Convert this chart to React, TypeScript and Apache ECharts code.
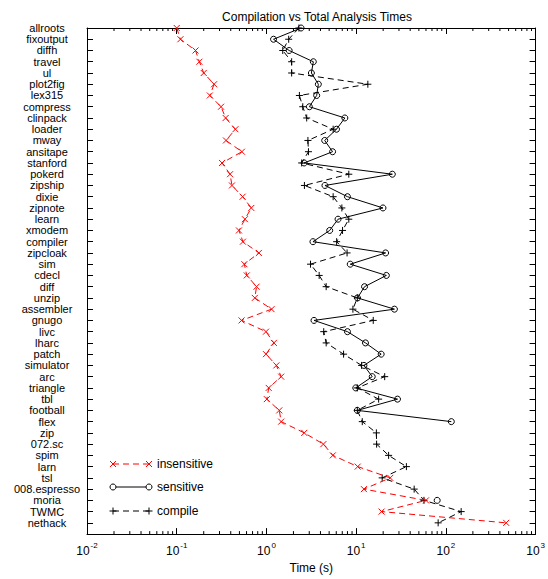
import React, { useEffect, useRef } from "react";
import * as echarts from "echarts";

const CATEGORIES = [
  "allroots", "fixoutput", "diffh", "travel", "ul", "plot2fig", "lex315", "compress",
  "clinpack", "loader", "mway", "ansitape", "stanford", "pokerd", "zipship", "dixie",
  "zipnote", "learn", "xmodem", "compiler", "zipcloak", "sim", "cdecl", "diff", "unzip",
  "assembler", "gnugo", "livc", "lharc", "patch", "simulator", "arc", "triangle", "tbl",
  "football", "flex", "zip", "072.sc", "spim", "larn", "tsl", "008.espresso", "moria",
  "TWMC", "nethack",
];

const INSENSITIVE = [
  0.10, 0.11, 0.162, 0.179, 0.20, 0.261, 0.234, 0.312, 0.351, 0.451, 0.354, 0.533,
  0.320, 0.393, 0.413, 0.543, 0.678, 0.576, 0.494, 0.547, 0.824, 0.567, 0.604, 0.776,
  0.742, 1.14, 0.528, 0.989, 1.21, 0.989, 1.29, 1.46, 1.06, 1.01, 1.39, 1.46, 2.64,
  4.31, 5.5, 10.4, 24, 12.2, 60, 19.2, 470,
];

const SENSITIVE: (number | null)[] = [
  2.43, 1.20, 1.79, 3.33, 3.17, 3.79, 3.63, 3.01, 7.48, 6.04, 4.46, 5.46, 2.63, 25.3,
  4.49, 8.0, 19.9, 6.28, 5.07, 3.30, 21.3, 8.59, 21.7, 12.4, 10.35, 26.7, 3.39, 8.0,
  12.7, 19.0, 12.2, 15.1, 9.9, 28.9, 10.3, 115, null, null, null, null, null, null, 80,
  null, null,
];

const COMPILE = [
  2.3, 1.77, 1.52, 1.91, 1.91, 13.5, 2.33, 2.54, 2.81, 5.54, 2.9, 2.94, 2.47, 8.28,
  2.65, 5.54, 6.93, 8.28, 7.05, 6.06, 7.92, 3.10, 3.87, 4.63, 10.3, 9.2, 15.5, 4.35,
  4.63, 7.24, 11.5, 20.8, 10.3, 17.8, 10.3, 11.7, 16.8, 16.9, 23, 36.3, 19.5, 44.3, 57,
  148, 82,
];

const X_MIN = 0.01;
const X_MAX = 1000;
const DECADES = [-2, -1, 0, 1, 2];
const MINOR_MULTIPLIERS = [2, 3, 4, 5, 6, 7, 8, 9];

const FONT = "'Liberation Sans', Arial, Helvetica, sans-serif";
const X_PATH = "path://M0,0L10,10M10,0L0,10";
const PLUS_PATH = "path://M5,0L5,10M0,5L10,5";

function toPairs(values: (number | null)[]) {
  return values.map((v, i) => (v == null ? ["-", i] : [v, i]));
}

export default function App() {
  const ref = useRef<HTMLDivElement>(null);

  useEffect(() => {
    document.body.style.margin = "0";
    if (!ref.current) return;
    const chart = echarts.init(ref.current, undefined, { renderer: "svg" });

    const minorTicks: number[][] = [];
    DECADES.forEach((d) =>
      MINOR_MULTIPLIERS.forEach((m) => minorTicks.push([m * Math.pow(10, d), 0]))
    );

    const yCats = [...CATEGORIES, ""];

    const legendItems = [
      { name: "insensitive", y: 464, kind: "x" },
      { name: "sensitive", y: 487, kind: "o" },
      { name: "compile", y: 511, kind: "+" },
    ];
    const lx1 = 113;
    const lx2 = 149;
    const graphics: any[] = [];
    legendItems.forEach((it) => {
      const color = it.kind === "x" ? "#ff0000" : "#000";
      graphics.push({
        type: "line",
        shape: { x1: lx1, y1: it.y, x2: lx2, y2: it.y },
        style: { stroke: color, lineWidth: 1, lineDash: it.kind === "o" ? null : [6, 4] },
        silent: true,
      });
      [lx1, lx2].forEach((cx) => {
        if (it.kind === "x") {
          graphics.push({ type: "line", shape: { x1: cx - 3, y1: it.y - 3, x2: cx + 3, y2: it.y + 3 }, style: { stroke: color, lineWidth: 1 } });
          graphics.push({ type: "line", shape: { x1: cx - 3, y1: it.y + 3, x2: cx + 3, y2: it.y - 3 }, style: { stroke: color, lineWidth: 1 } });
        } else if (it.kind === "o") {
          graphics.push({ type: "circle", shape: { cx, cy: it.y, r: 3 }, style: { stroke: color, fill: "#fff", lineWidth: 1 } });
        } else {
          graphics.push({ type: "line", shape: { x1: cx - 3.5, y1: it.y, x2: cx + 3.5, y2: it.y }, style: { stroke: color, lineWidth: 1 } });
          graphics.push({ type: "line", shape: { x1: cx, y1: it.y - 3.5, x2: cx, y2: it.y + 3.5 }, style: { stroke: color, lineWidth: 1 } });
        }
      });
      graphics.push({
        type: "text",
        x: 157,
        y: it.y,
        style: { text: it.name, fontSize: 12, fontFamily: FONT, fill: "#000", align: "left", verticalAlign: "middle" },
      });
    });

    const axisLineStyle = { lineStyle: { color: "#000", width: 1 } };

    chart.setOption({
      animation: false,
      textStyle: { fontFamily: FONT, color: "#000" },
      title: {
        text: "Compilation vs Total Analysis Times",
        left: 312,
        textAlign: "center",
        top: 5,
        textStyle: { fontSize: 12, fontWeight: "normal", color: "#000", fontFamily: FONT, lineHeight: 14 },
      },
      grid: { left: 87, right: 11, top: 28, bottom: 36, containLabel: false },
      xAxis: [
        {
          type: "log",
          logBase: 10,
          min: X_MIN,
          max: X_MAX,
          position: "bottom",
          axisLine: { show: true, ...axisLineStyle },
          axisTick: { show: true, inside: true, length: 6, lineStyle: { color: "#000" } },
          splitLine: { show: false },
          axisLabel: {
            margin: 7,
            color: "#000",
            fontSize: 12,
            fontFamily: FONT,
            formatter: (v: number) => `{b|10}{sup|${Math.round(Math.log10(v))}}`,
            rich: {
              b: { fontSize: 12, fontFamily: FONT, color: "#000", lineHeight: 16, verticalAlign: "bottom" },
              sup: { fontSize: 8, fontFamily: FONT, color: "#000", lineHeight: 16, verticalAlign: "top", padding: [0, 0, 0, 1] },
            },
          },
          name: "Time (s)",
          nameLocation: "middle",
          nameGap: 23,
          nameTextStyle: { fontSize: 12, color: "#000", fontFamily: FONT },
        },
        {
          type: "log",
          logBase: 10,
          min: X_MIN,
          max: X_MAX,
          position: "top",
          axisLine: { show: true, ...axisLineStyle },
          axisTick: { show: true, inside: true, length: 6, lineStyle: { color: "#000" } },
          splitLine: { show: false },
          axisLabel: { show: false },
        },
      ],
      yAxis: [
        {
          type: "category",
          data: yCats,
          inverse: true,
          boundaryGap: false,
          position: "left",
          axisLine: { show: true, ...axisLineStyle },
          axisTick: { show: true, inside: true, length: 6, interval: 0, lineStyle: { color: "#000" } },
          splitLine: { show: false },
          axisLabel: {
            interval: 0,
            align: "center",
            margin: 40,
            fontSize: 11,
            lineHeight: 11,
            color: "#000",
            fontFamily: FONT,
          },
        },
        {
          type: "category",
          data: yCats,
          inverse: true,
          boundaryGap: false,
          position: "right",
          axisLine: { show: true, ...axisLineStyle },
          axisTick: { show: true, inside: true, length: 6, interval: 0, lineStyle: { color: "#000" } },
          splitLine: { show: false },
          axisLabel: { show: false },
        },
      ],
      series: [
        {
          name: "minor ticks",
          type: "custom",
          silent: true,
          clip: false,
          xAxisIndex: 0,
          yAxisIndex: 0,
          encode: { x: 0, y: 1 },
          data: minorTicks,
          renderItem: (params: any, api: any) => {
            const x = api.coord([api.value(0), 0])[0];
            const cs = params.coordSys;
            const bottom = cs.y + cs.height;
            return {
              type: "group",
              children: [
                { type: "line", shape: { x1: x, y1: bottom, x2: x, y2: bottom - 3 }, style: { stroke: "#000", lineWidth: 1 } },
                { type: "line", shape: { x1: x, y1: cs.y, x2: x, y2: cs.y + 3 }, style: { stroke: "#000", lineWidth: 1 } },
              ],
            };
          },
        },
        {
          name: "insensitive",
          type: "line",
          xAxisIndex: 0,
          yAxisIndex: 0,
          data: toPairs(INSENSITIVE),
          symbol: X_PATH,
          symbolSize: 6,
          showAllSymbol: true,
          itemStyle: { color: "rgba(0,0,0,0)", borderColor: "#ff0000", borderWidth: 1 },
          lineStyle: { color: "#ff0000", width: 1, type: [6, 4] },
          z: 3,
        },
        {
          name: "sensitive",
          type: "line",
          xAxisIndex: 0,
          yAxisIndex: 0,
          data: toPairs(SENSITIVE),
          connectNulls: false,
          symbol: "circle",
          symbolSize: 6,
          showAllSymbol: true,
          itemStyle: { color: "rgba(0,0,0,0)", borderColor: "#000", borderWidth: 1 },
          lineStyle: { color: "#000", width: 1, type: "solid" },
          z: 2,
        },
        {
          name: "compile",
          type: "line",
          xAxisIndex: 0,
          yAxisIndex: 0,
          data: toPairs(COMPILE),
          symbol: PLUS_PATH,
          symbolSize: 7,
          showAllSymbol: true,
          itemStyle: { color: "rgba(0,0,0,0)", borderColor: "#000", borderWidth: 1 },
          lineStyle: { color: "#000", width: 1, type: [6, 4] },
          z: 2,
        },
      ],
      graphic: graphics,
    });

    return () => chart.dispose();
  }, []);

  return <div ref={ref} style={{ width: 548, height: 579 }} />;
}
